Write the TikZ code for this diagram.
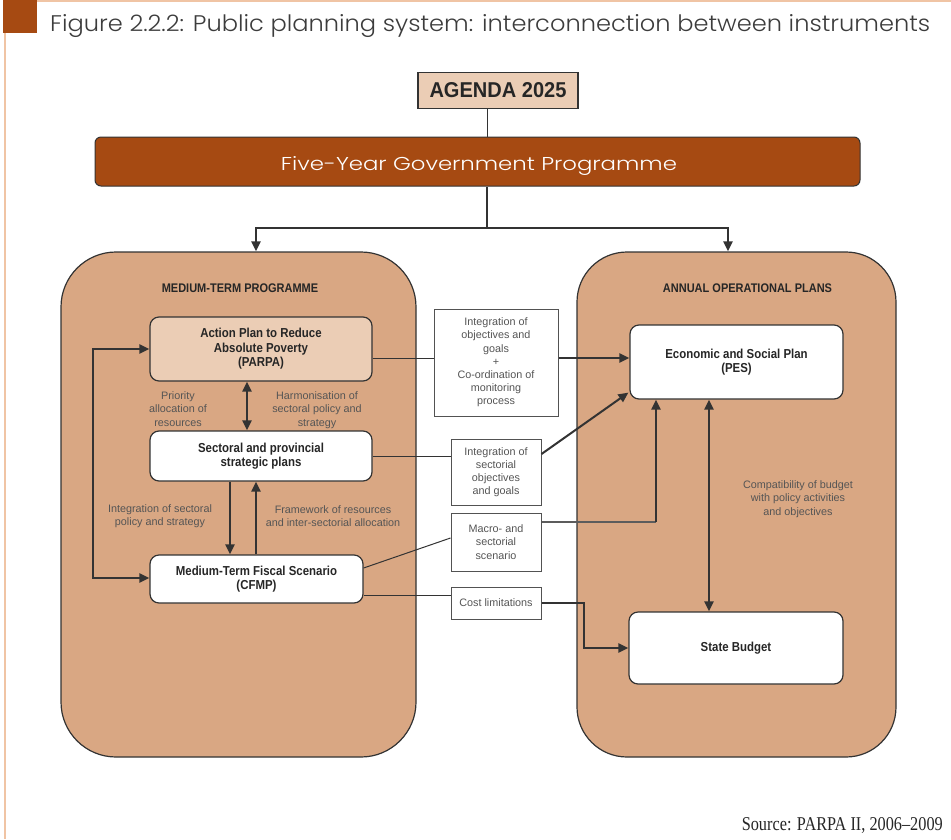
\documentclass[tikz,border=0pt]{standalone}
\usepackage{graphicx}
\usepackage{fontspec}
\setmainfont{Liberation Sans}
\newfontfamily\pop{Poppins Light}
\newfontfamily\cnd[FakeStretch=0.88]{Liberation Sans}
\newfontfamily\cndd[FakeStretch=0.8]{Liberation Sans}
\newfontfamily\srf{Liberation Serif}
\usetikzlibrary{arrows.meta,calc}
\definecolor{rust}{HTML}{A64A12}
\definecolor{tan}{HTML}{D9A783}
\definecolor{peach}{HTML}{EBCDB5}
\definecolor{frameline}{HTML}{F0C4A4}
\definecolor{edge}{HTML}{333333}
\definecolor{txt}{HTML}{262626}
\definecolor{greytxt}{HTML}{555555}
\begin{document}
\begin{tikzpicture}[x=1pt,y=-1pt,
  bigbox/.style={draw=edge, line width=1.2pt, fill=tan, rounded corners=55pt, inner sep=0pt},
  wbox/.style={draw=edge, line width=1.2pt, fill=white, rounded corners=9pt, inner sep=0pt,
    font=\cnd\bfseries\fontsize{13}{14.5}\selectfont, text=txt, align=center},
  sbox/.style={draw=edge!85, line width=1pt, fill=white, inner sep=0pt,
    font=\fontsize{10.8}{13.2}\selectfont, text=greytxt, align=center},
  lbl/.style={font=\fontsize{10.8}{13.2}\selectfont, text=greytxt, align=center, inner sep=0pt},
  hdr/.style={font=\cnd\bfseries\fontsize{12.5}{14}\selectfont, text=txt, inner sep=0pt},
  thinline/.style={draw=edge, line width=1pt},
  midline/.style={draw=edge, line width=1.5pt},
  arr/.style={draw=edge, line width=2.2pt, -{Triangle[length=10pt,width=9pt]}},
  darr/.style={draw=edge, line width=2.2pt, {Triangle[length=10pt,width=9pt]}-{Triangle[length=10pt,width=9pt]}}
]
\useasboundingbox (0,0) rectangle (951,839);

% frame
\fill[rust] (3.3,0) rectangle (37,33);
\draw[frameline, line width=1.8pt] (37,1) -- (951,1);
\draw[frameline, line width=1.8pt] (5,33) -- (5,839);

% title
\node[anchor=base west, inner sep=0pt, text=txt!90] (title) at (50,31.5)
  {\resizebox{880pt}{17pt}{\pop Figure 2.2.2: Public planning system: interconnection between instruments}};

% top boxes
\node[draw=edge, line width=1.5pt, fill=peach, minimum width=160pt, minimum height=36pt, inner sep=0pt, text=txt] (agenda) at (498,90.5)
  {\resizebox{137pt}{15pt}{\cndd\bfseries AGENDA 2025}};
\node[draw=edge, line width=1pt, fill=rust, rounded corners=6pt, minimum width=765pt, minimum height=49pt, inner sep=0pt] (fiveyr) at (477.5,161.5) {};
\node[anchor=base, inner sep=0pt, text=white] (fivetxt) at (479,170.7)
  {\resizebox{396pt}{14pt}{\pop Five-Year Government Programme}};

% big boxes
\node[bigbox, minimum width=355pt, minimum height=505pt] (mtp) at (238.5,504.5) {};
\node[bigbox, rounded corners=50pt, minimum width=319pt, minimum height=505pt] (aop) at (736.5,504.5) {};
\node[hdr] (hmtp) at (240,288.5) {MEDIUM-TERM PROGRAMME};
\node[hdr] (haop) at (747.5,288.5) {ANNUAL OPERATIONAL PLANS};

% connections from top
\coordinate (j) at (487,228);
\draw[thinline] (j |- agenda.south) -- (j |- fiveyr.north);
\draw[midline] (j |- fiveyr.south) -- (j);
\draw[arr] (j) -| ($(mtp.north)+(17.5,0)$);
\draw[arr] (j) -| ($(aop.north)+(-8.5,0)$);

% inner boxes
\node[wbox, fill=peach, minimum width=222pt, minimum height=64pt] (parpa) at (261,349)
  {Action Plan to Reduce\\Absolute Poverty\\(PARPA)};
\node[wbox, minimum width=222pt, minimum height=50pt] (sect) at (261,456)
  {Sectoral and provincial\\strategic plans};
\node[wbox, minimum width=213pt, minimum height=48pt] (cfmp) at (256.5,579)
  {Medium-Term Fiscal Scenario\\(CFMP)};
\node[wbox, minimum width=213pt, minimum height=74pt] (pes) at (736.5,362)
  {Economic and Social Plan\\(PES)};
\node[wbox, minimum width=214pt, minimum height=72pt] (sb) at (736,648)
  {State Budget};

% middle boxes
\node[sbox, minimum width=124pt, minimum height=107pt] (b1) at (496,362.5)
  {Integration of\\objectives and\\goals\\+\\Co-ordination of\\monitoring\\process};
\node[sbox, minimum width=90pt, minimum height=66pt] (b2) at (496,472)
  {Integration of\\sectorial\\objectives\\and goals};
\node[sbox, minimum width=90pt, minimum height=58pt] (b3) at (496,542)
  {Macro- and\\sectorial\\scenario};
\node[sbox, minimum width=90pt, minimum height=32pt] (b4) at (496,603)
  {Cost limitations};

% labels
\node[lbl] (l1) at (178,409) {Priority\\allocation of\\resources};
\node[lbl] (l2) at (317,410) {Harmonisation of\\sectoral policy and\\strategy};
\node[lbl] (l3) at (160,516) {Integration of sectoral\\policy and strategy};
\node[lbl] (l4) at (333,516) {Framework of resources\\and inter-sectorial allocation};
\node[lbl] (l5) at (798,499) {Compatibility of budget\\with policy activities\\and objectives};

% connectors
\draw[thinline] (parpa.east |- 0,358) -- (b1.west |- 0,358);
\draw[arr] (b1.east |- 0,358) -- (pes.west |- 0,358);
\draw[thinline] (sect.east |- 0,456) -- (b2.west |- 0,456);
\draw[arr, line width=2pt] (b2.east |- 0,454) -- ($(pes.south west)+(-1,-7)$);
\draw[thinline] (cfmp.east |- 0,568) -- (b3.west |- 0,538);
\draw[midline, draw=edge!80] (b3.east |- 0,522) -- (656,522);
\draw[arr] (656,522) -- (656,0 |- pes.south);
\draw[thinline] (cfmp.east |- 0,595) -- (b4.west |- 0,595);
\draw[arr] (b4.east |- 0,603) -| (584,0 |- sb.west) -- (sb.west);
\draw[darr] (709,0 |- pes.south) -- (709,0 |- sb.north);
\draw[darr] (247,0 |- parpa.south) -- (247,0 |- sect.north);
\draw[arr] (230,0 |- sect.south) -- (230,0 |- cfmp.north);
\draw[arr] (256,0 |- cfmp.north) -- (256,0 |- sect.south);
\draw[darr] (parpa.west) -| (93,578) -- (cfmp.west |- 0,578);

% source
\node[anchor=base east, inner sep=0pt, text=txt] (src) at (943,830)
  {\resizebox{201pt}{13pt}{\srf Source: PARPA II, 2006–2009}};
\end{tikzpicture}
\end{document}
